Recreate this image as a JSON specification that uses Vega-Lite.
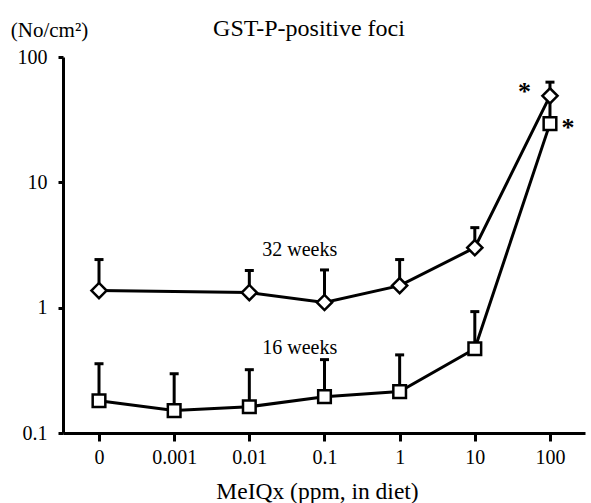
{
  "$schema": "https://vega.github.io/schema/vega-lite/v6.json",
  "width": 522,
  "height": 376,
  "autosize": {"type": "none"},
  "padding": {"left": 63, "top": 57, "right": 6, "bottom": 70},
  "background": "white",
  "config": {
    "font": "Liberation Serif",
    "view": {"stroke": null},
    "axis": {
      "domainColor": "black", "domainWidth": 3,
      "tickColor": "black", "tickWidth": 3,
      "labelColor": "black", "labelFontSize": 20, "labelFont": "Liberation Serif",
      "titleFont": "Liberation Serif", "titleFontWeight": "normal", "titleFontSize": 20, "titleColor": "black",
      "grid": false
    },
    "title": {"fontSize": 24, "fontWeight": "normal", "font": "Liberation Serif", "color": "black"}
  },
  "title": {"text": "GST-P-positive foci", "fontSize": 24, "fontWeight": "normal", "font": "Liberation Serif", "color": "black", "anchor": "middle", "dx": -15, "dy": 26},
  "datasets": {
    "foci": [
      {"dose": "0", "pos": 0, "series": "32 weeks", "mean": 1.37, "upper": 2.42},
      {"dose": "0.01", "pos": 2, "series": "32 weeks", "mean": 1.32, "upper": 1.98},
      {"dose": "0.1", "pos": 3, "series": "32 weeks", "mean": 1.10, "upper": 2.0},
      {"dose": "1", "pos": 4, "series": "32 weeks", "mean": 1.50, "upper": 2.42},
      {"dose": "10", "pos": 5, "series": "32 weeks", "mean": 3.01, "upper": 4.35},
      {"dose": "100", "pos": 6, "series": "32 weeks", "mean": 49, "upper": 63},
      {"dose": "0", "pos": 0, "series": "16 weeks", "mean": 0.181, "upper": 0.357},
      {"dose": "0.001", "pos": 1, "series": "16 weeks", "mean": 0.151, "upper": 0.297},
      {"dose": "0.01", "pos": 2, "series": "16 weeks", "mean": 0.162, "upper": 0.32},
      {"dose": "0.1", "pos": 3, "series": "16 weeks", "mean": 0.195, "upper": 0.385},
      {"dose": "1", "pos": 4, "series": "16 weeks", "mean": 0.214, "upper": 0.42},
      {"dose": "10", "pos": 5, "series": "16 weeks", "mean": 0.47, "upper": 0.93},
      {"dose": "100", "pos": 6, "series": "16 weeks", "mean": 29.4, "upper": 48}
    ],
    "notes": [
      {"label": "32 weeks", "pos": 2.67, "y": 2.6},
      {"label": "16 weeks", "pos": 2.67, "y": 0.43},
      {"label": "*", "pos": 5.66, "y": 45},
      {"label": "*", "pos": 6.24, "y": 23.6}
    ]
  },
  "layer": [
    {
      "data": {"name": "foci"},
      "mark": {"type": "line", "color": "black", "strokeWidth": 3},
      "encoding": {
        "x": {
          "field": "pos", "type": "quantitative",
          "scale": {"domain": [-0.479, 6.466], "nice": false, "zero": false},
          "axis": {
            "title": "MeIQx (ppm, in diet)", "titleFontSize": 23.5, "titleX": 254, "titleY": 65, "titleBaseline": "alphabetic",
            "values": [0, 1, 2, 3, 4, 5, 6],
            "labelExpr": "['0','0.001','0.01','0.1','1','10','100'][datum.value]",
            "tickSize": 8, "labelPadding": 6
          }
        },
        "y": {
          "field": "mean", "type": "quantitative",
          "scale": {"type": "log", "domain": [0.1, 100], "nice": false},
          "axis": {
            "title": "(No/cm²)", "titleFontSize": 21, "titleAngle": 0, "titleAlign": "center", "titleBaseline": "alphabetic",
            "titleX": -14, "titleY": -21,
            "values": [0.1, 1, 10, 100], "format": "~g",
            "tickSize": 5, "labelPadding": 11
          }
        },
        "detail": {"field": "series", "type": "nominal"}
      }
    },
    {
      "data": {"name": "foci"},
      "mark": {"type": "rule", "color": "black", "strokeWidth": 3},
      "encoding": {
        "x": {"field": "pos", "type": "quantitative"},
        "y": {"field": "mean", "type": "quantitative"},
        "y2": {"field": "upper"}
      }
    },
    {
      "data": {"name": "foci"},
      "mark": {"type": "tick", "color": "black", "orient": "horizontal", "size": 9, "thickness": 3, "opacity": 1},
      "encoding": {
        "x": {"field": "pos", "type": "quantitative"},
        "y": {"field": "upper", "type": "quantitative"}
      }
    },
    {
      "data": {"name": "foci"},
      "mark": {"type": "point", "filled": true, "fill": "white", "stroke": "black", "strokeWidth": 2.5, "opacity": 1},
      "encoding": {
        "x": {"field": "pos", "type": "quantitative"},
        "y": {"field": "mean", "type": "quantitative"},
        "shape": {"field": "series", "type": "nominal", "scale": {"domain": ["32 weeks", "16 weeks"], "range": ["diamond", "square"]}, "legend": null},
        "size": {"field": "series", "type": "nominal", "scale": {"domain": ["32 weeks", "16 weeks"], "range": [230, 160]}, "legend": null}
      }
    },
    {
      "data": {"name": "notes"},
      "transform": [{"filter": "datum.label !== '*'"}],
      "mark": {"type": "text", "font": "Liberation Serif", "fontSize": 20, "color": "black", "align": "center", "baseline": "alphabetic"},
      "encoding": {
        "x": {"field": "pos", "type": "quantitative"},
        "y": {"field": "y", "type": "quantitative"},
        "text": {"field": "label", "type": "nominal"}
      }
    },
    {
      "data": {"name": "notes"},
      "transform": [{"filter": "datum.label === '*'"}],
      "mark": {"type": "text", "font": "Liberation Serif", "fontSize": 26, "fontWeight": "bold", "color": "black", "align": "center", "baseline": "alphabetic"},
      "encoding": {
        "x": {"field": "pos", "type": "quantitative"},
        "y": {"field": "y", "type": "quantitative"},
        "text": {"field": "label", "type": "nominal"}
      }
    }
  ]
}
